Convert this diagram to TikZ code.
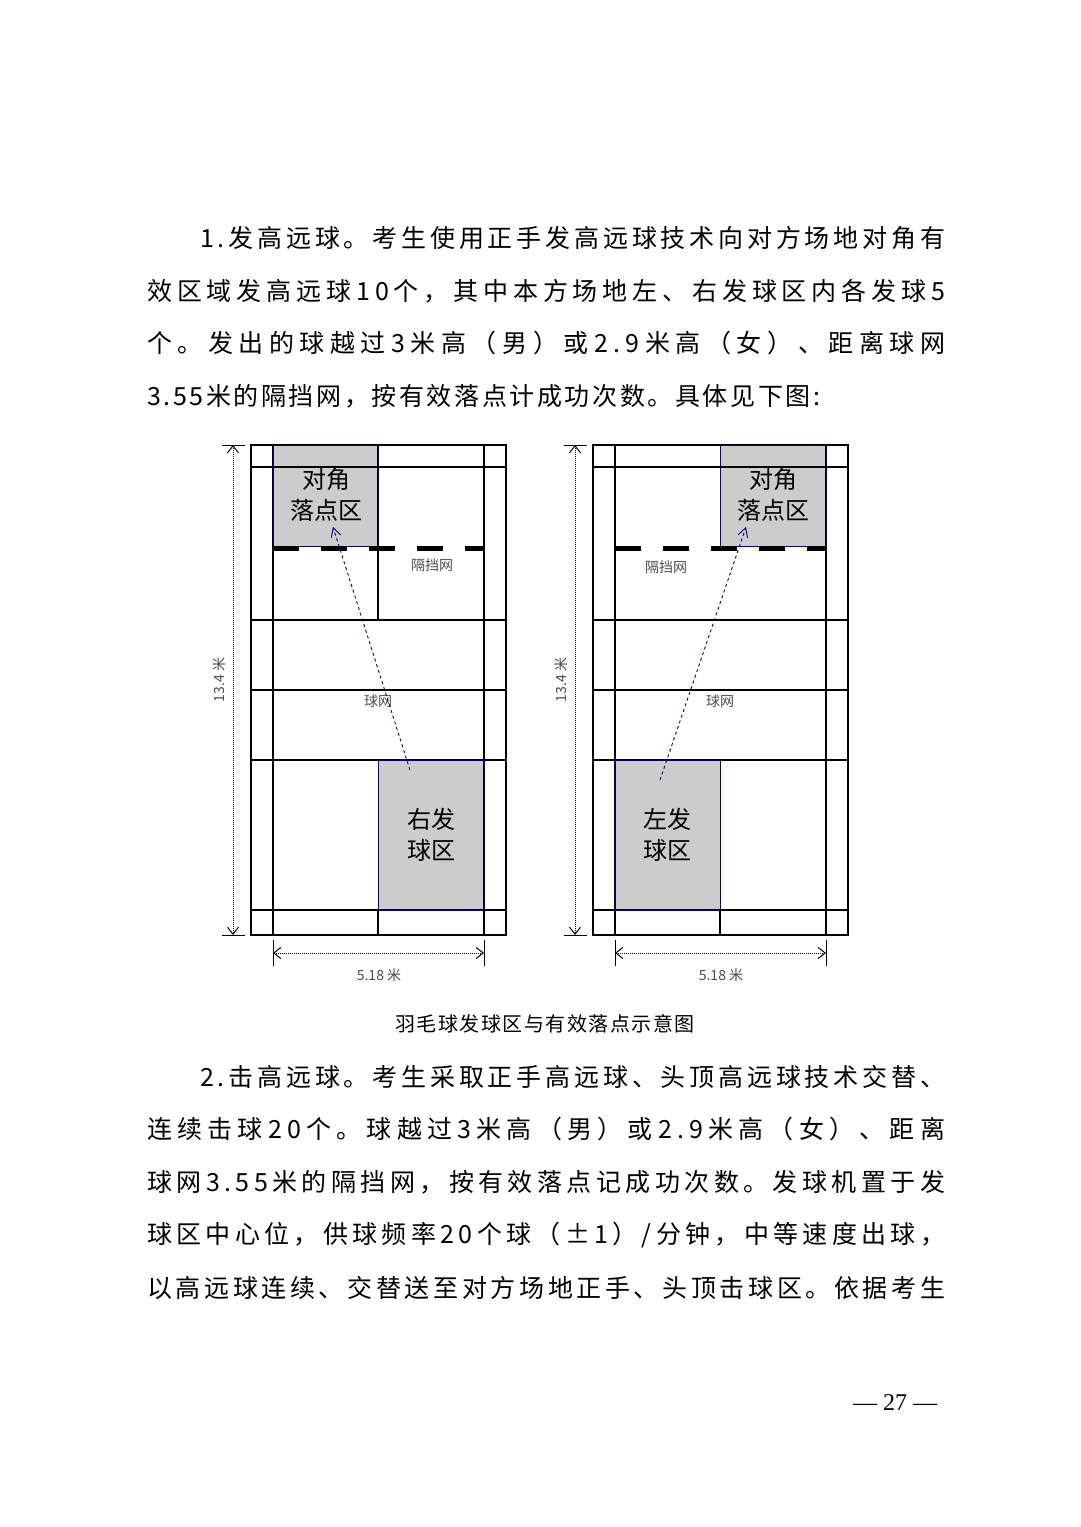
\documentclass[tikz,border=0pt]{standalone}
\usepackage{fontspec}
\setmainfont{Liberation Serif}
\newfontfamily\cjk{Noto Sans CJK SC}
\usetikzlibrary{arrows.meta}
\tikzset{
 court/.style={draw=black,line width=1.3pt},
 zone/.style={draw=blue!50!black,line width=1pt},
 shot/.style={draw=blue!50!black,dashed,line width=0.9pt,-{Straight Barb[length=9pt,width=10pt]}},
 dim/.style={densely dotted,line width=1pt,{Straight Barb[length=7pt,width=11pt]}-{Straight Barb[length=7pt,width=11pt]}},
 body/.style={anchor=west,inner sep=0pt,font=\cjk\fontsize{25}{30}\selectfont},
 lbl/.style={font=\cjk\fontsize{24}{31}\selectfont,align=center},
 small/.style={font=\cjk\fontsize{14}{16}\selectfont,text=black!70},
}
\def\spglue{\hfil}
\def\spx#1{\ifx#1\relax\else#1\spglue\expandafter\spx\fi}
\newcommand{\jl}[2]{\hbox to #1{\spx#2\relax\unskip}}
\newcommand{\nl}[2]{\hbox{\def\spglue{\hskip#1}\spx#2\relax\unskip}}
\begin{document}
\begin{tikzpicture}[x=1pt,y=-1pt]
\useasboundingbox (0,0) rectangle (1080,1527);
\node[body] (p1a) at (200,238) {\jl{745pt}{1.发高远球。考生使用正手发高远球技术向对方场地对角有}};
\node[body] (p1b) at (147,291) {\jl{798pt}{效区域发高远球10个，其中本方场地左、右发球区内各发球5}};
\node[body] (p1c) at (147,343) {\jl{798pt}{个。发出的球越过3米高（男）或2.9米高（女）、距离球网}};
\node[body] (p1d) at (147,396) {\nl{2.6pt}{3.55米的隔挡网，按有效落点计成功次数。具体见下图:}};
\foreach \o/\side in {0/R,342/L}{
 \begin{scope}[xshift=\o]
  \ifnum\o=0
   \fill[gray!40] (273,445) rectangle (378,546);
   \fill[gray!40] (378,760) rectangle (484,910);
  \else
   \fill[gray!40] (378,445) rectangle (484,546);
   \fill[gray!40] (273,760) rectangle (378,910);
  \fi
  \draw[court] (251,445) rectangle (506,935);
  \draw[court] (273,445) -- (273,935) (484,445) -- (484,935);
  \draw[court] (251,467) -- (506,467) (251,910) -- (506,910);
  \draw[court] (251,620) -- (506,620) (251,690) -- (506,690) (251,760) -- (506,760);
  \draw[court] (378,910) -- (378,935);
  \ifnum\o=0
   \draw[court] (378,445) -- (378,620);
   \draw[zone] (273,445) rectangle (378,546);
   \draw[zone] (378,760) rectangle (484,910);
  \else
   \draw[zone] (378,445) rectangle (484,546);
   \draw[zone] (273,760) rectangle (378,910);
  \fi
  \draw[line width=5pt,dash pattern=on 26pt off 22pt] (273,548) -- (484,548);
  \draw[line width=1pt] (222,445) -- (245,445) (222,935) -- (245,935);
  \draw[line width=1pt] (273,940) -- (273,966) (484,940) -- (484,966);
  \coordinate (vt\side) at (233,445); \coordinate (vb\side) at (233,935);
  \coordinate (hl\side) at (273,953); \coordinate (hr\side) at (484,953);
  \draw[dim] (vt\side) -- (vb\side);
  \draw[dim] (hl\side) -- (hr\side);
  \node[small,rotate=90] (h\side) at (219,680) {13.4 米};
  \node[small] (w\side) at (379,975) {5.18 米};
  \node[small] (net\side) at (378,701) {球网};
 \end{scope}
}
\node[lbl] (djR) at (326,495) {对角\\落点区};
\node[lbl] (yfR) at (431,835) {右发\\球区};
\node[small] (gdR) at (432,565) {隔挡网};
\coordinate (sR) at (410,770); \coordinate (eR) at (333,527);
\draw[shot] (sR) -- (eR);
\node[lbl] (djL) at (773,495) {对角\\落点区};
\node[lbl] (zfL) at (667,835) {左发\\球区};
\node[small] (gdL) at (666,567) {隔挡网};
\coordinate (sL) at (660,780); \coordinate (eL) at (746,527);
\draw[shot] (sL) -- (eL);
\node[font=\cjk\fontsize{20}{24}\selectfont] (cap) at (545,1024) {\nl{1.5pt}{羽毛球发球区与有效落点示意图}};
\node[body] (p2a) at (200,1077) {\jl{745pt}{2.击高远球。考生采取正手高远球、头顶高远球技术交替、}};
\node[body] (p2b) at (147,1129) {\jl{798pt}{连续击球20个。球越过3米高（男）或2.9米高（女）、距离}};
\node[body] (p2c) at (147,1182) {\jl{798pt}{球网3.55米的隔挡网，按有效落点记成功次数。发球机置于发}};
\node[body] (p2d) at (147,1235) {\jl{798pt}{球区中心位，供球频率20个球（±1）/分钟，中等速度出球，}};
\node[body] (p2e) at (147,1288) {\jl{798pt}{以高远球连续、交替送至对方场地正手、头顶击球区。依据考生}};
\node[font=\fontsize{24}{28}\selectfont] (pg) at (895,1403) {— 27 —};
\end{tikzpicture}
\end{document}
